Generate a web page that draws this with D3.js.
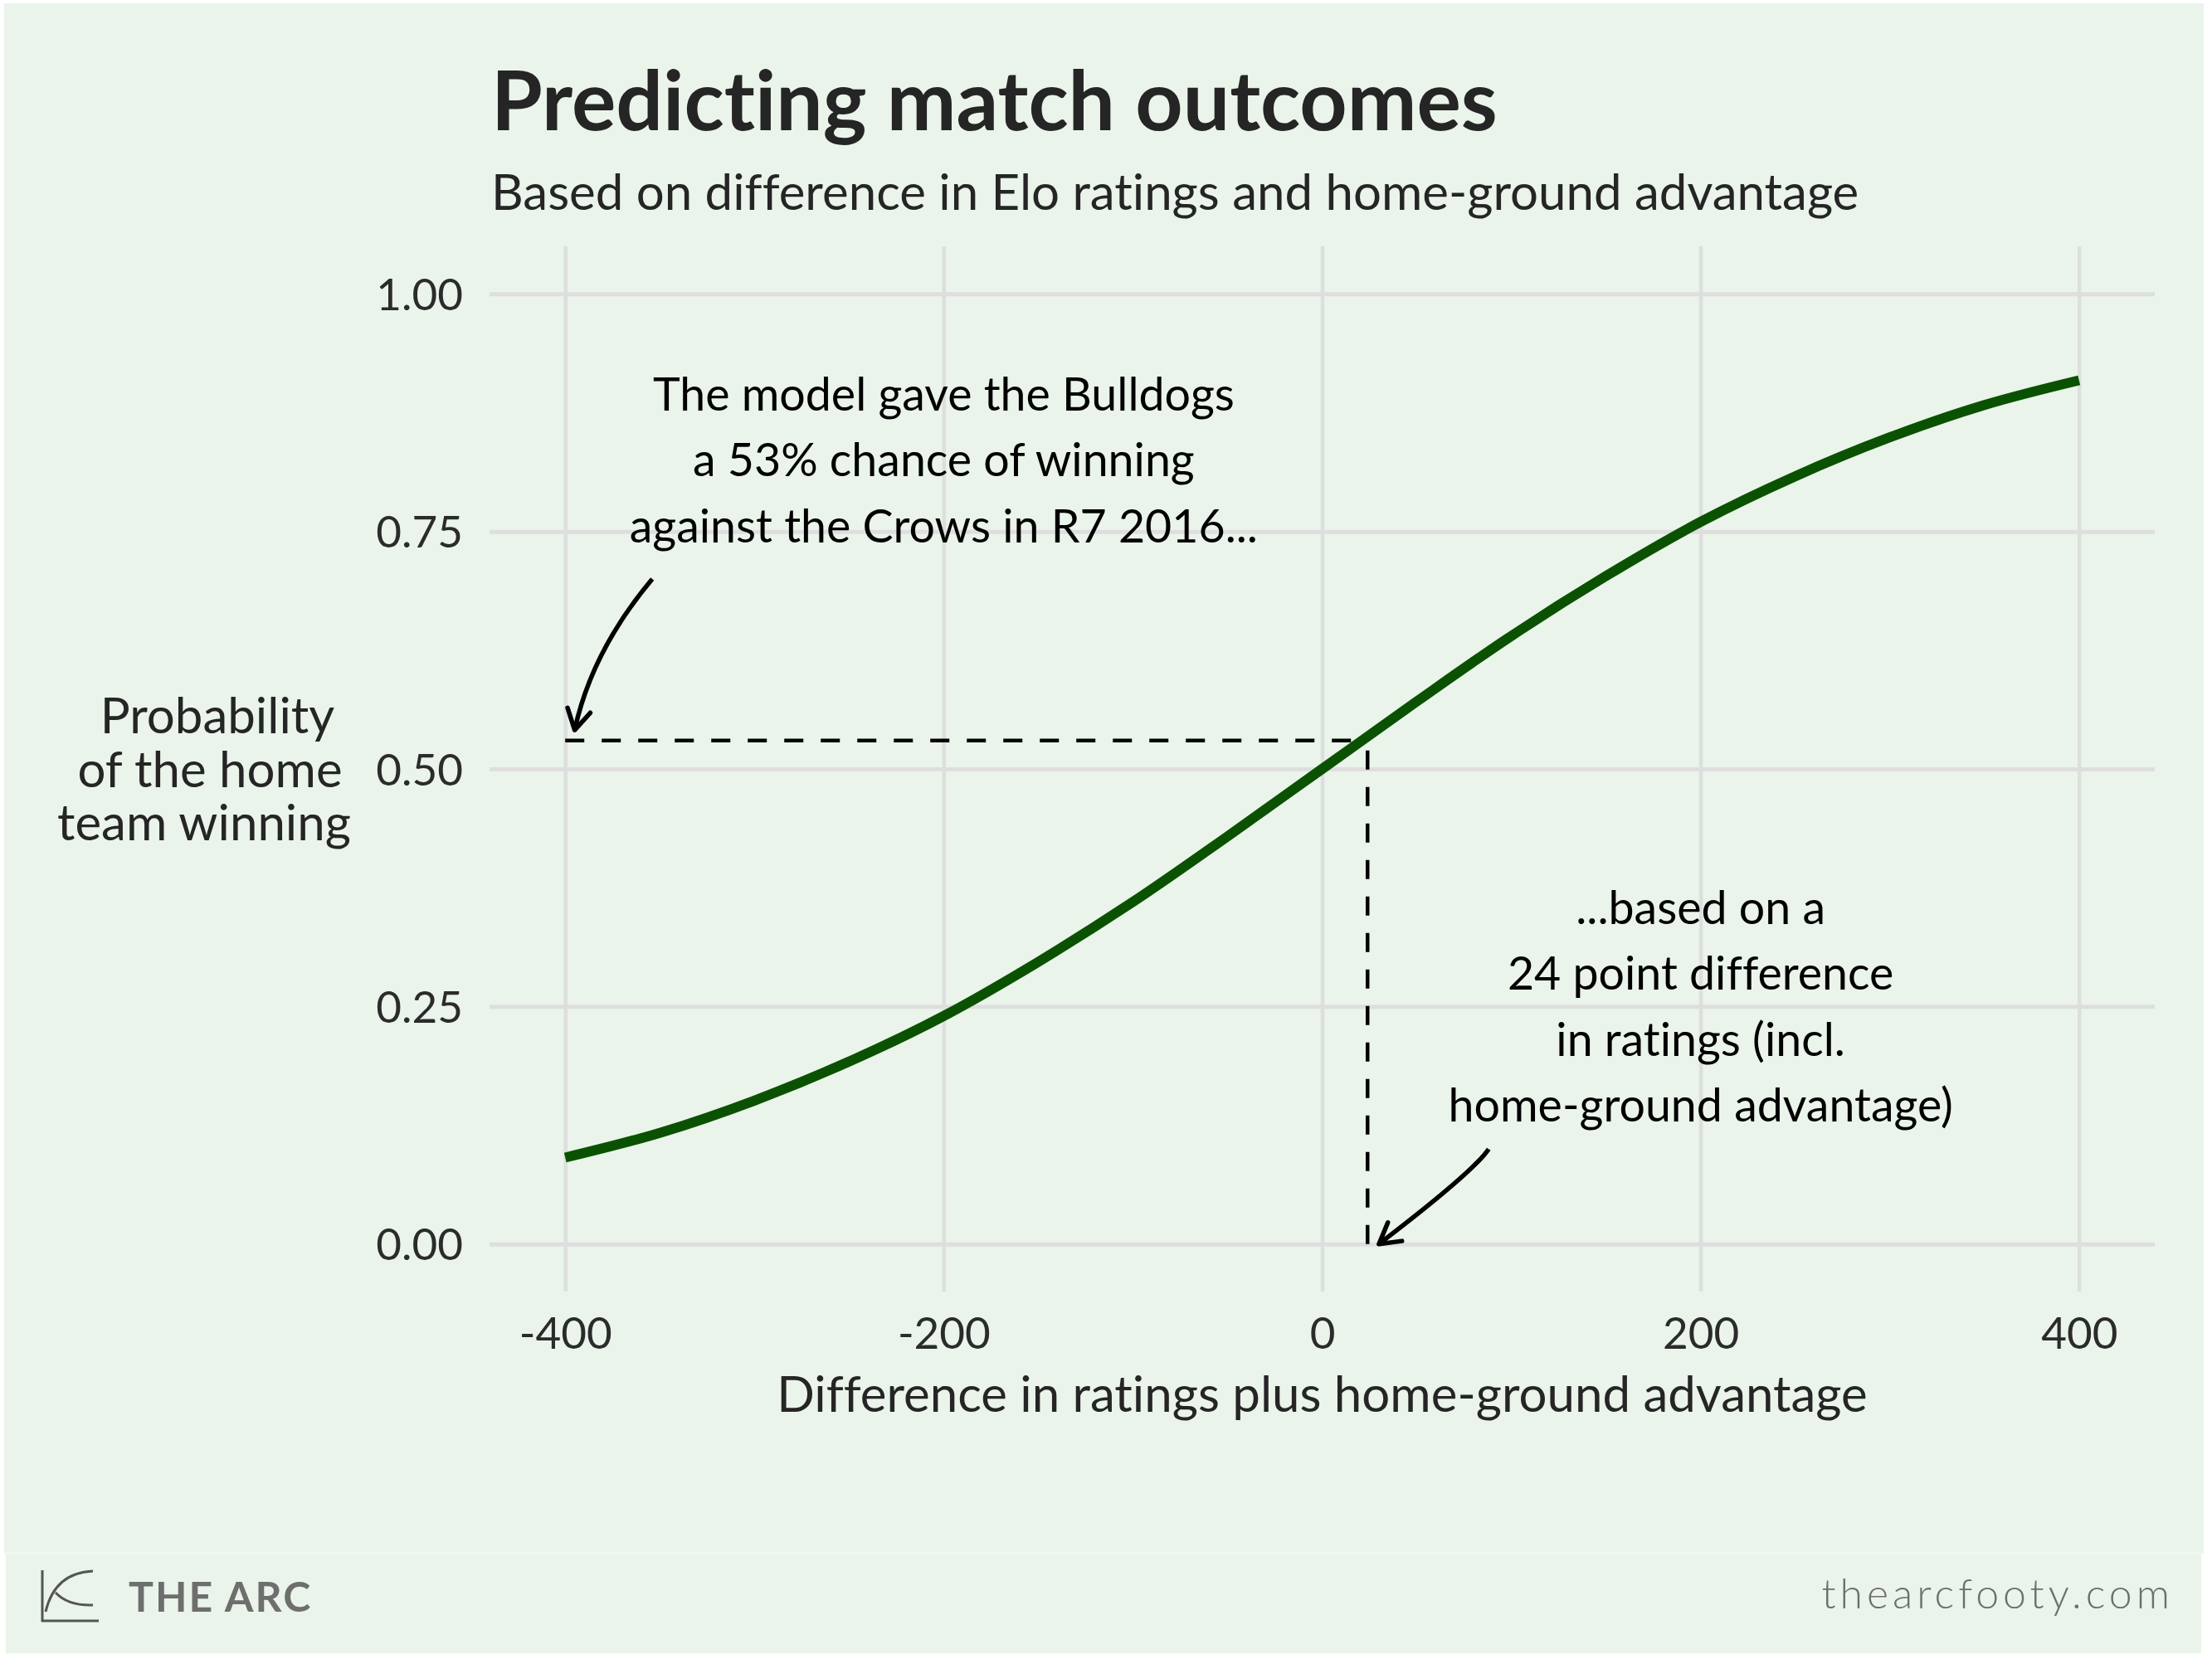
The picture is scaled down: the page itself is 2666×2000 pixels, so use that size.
<!DOCTYPE html>
<html>
<head>
<meta charset="utf-8">
<script src="https://cdn.jsdelivr.net/npm/d3@7"></script>
<style>
  html, body { margin: 0; padding: 0; background: #ffffff; }
  svg { display: block; font-family: Lato, "Open Sans", sans-serif; font-variant-ligatures: none; }
</style>
</head>
<body>
<svg id="chart" width="2666" height="2000"></svg>
<script>
// ratings difference (x) and win probability (y)
const diffs = [-400, -350, -300, -250, -200, -150, -100, -50, 0, 50, 100, 150, 200, 250, 300, 350, 400]
const probs = [0.091, 0.117, 0.151, 0.192, 0.240, 0.297, 0.360, 0.429, 0.500, 0.571, 0.640, 0.703, 0.760, 0.808, 0.849, 0.883, 0.909]

const xTicks = [-400, -200, 0, 200, 400]
const yTicks = [0, 0.25, 0.5, 0.75, 1]

// the highlighted game
const gameDiff = 24
const gameProb = 0.53

const noteTop = ["The model gave the Bulldogs", "a 53% chance of winning", "against the Crows in R7 2016..."]
const noteBottom = ["...based on a", "24 point difference", "in ratings (incl.", "home-ground advantage)"]

// arrows: [x, y, ctrlX, ctrlY, xend, yend] in data units
const arrows = [
  [-354, 0.70, -386, 0.624, -395, 0.541],
  [88, 0.10, 80, 0.076, 30, 0.0]
]

const svg = d3.select("#chart")

// background
svg.append("rect").attr("x", 5).attr("y", 4).attr("width", 2651).attr("height", 1869).attr("fill", "#eaf4ea")
svg.append("rect").attr("x", 7).attr("y", 1873).attr("width", 2646).attr("height", 120).attr("fill", "#eaf4ea")
svg.append("line").attr("x1", 5).attr("x2", 2656).attr("y1", 1872.5).attr("y2", 1872.5)
  .attr("stroke", "#f3f9f2").attr("stroke-width", 1.5)

const x = d3.scaleLinear().domain([-440, 440]).range([590, 2597])
const y = d3.scaleLinear().domain([-0.05, 1.05]).range([1557, 297])

const gridCol = "#dedede"

// y axis + horizontal grid
const yAxis = svg.append("g")
  .attr("transform", `translate(${x.range()[0]},0)`)
  .call(d3.axisLeft(y).tickValues(yTicks).tickFormat(d3.format(".2f"))
    .tickSize(-(x.range()[1] - x.range()[0])).tickPadding(32))
yAxis.select(".domain").remove()
yAxis.selectAll("line").attr("stroke", gridCol).attr("stroke-width", 5)
yAxis.selectAll("text").attr("fill", "#2b2b2b").style("font-size", "53px")
  .attr("dy", "0.36em").attr("font-family", "Lato")

// x axis + vertical grid
const xAxis = svg.append("g")
  .attr("transform", `translate(0,${y.range()[0]})`)
  .call(d3.axisBottom(x).tickValues(xTicks).tickFormat(d => String(d))
    .tickSize(-(y.range()[0] - y.range()[1])))
xAxis.select(".domain").remove()
xAxis.selectAll("line").attr("stroke", gridCol).attr("stroke-width", 4.5)
xAxis.selectAll("text").attr("fill", "#2b2b2b").style("font-size", "53px")
  .attr("dy", null).attr("y", 69).attr("font-family", "Lato")

// dashed guide lines
const dash = { stroke: "#000", w: 4.5, arr: "23,21" }
svg.append("line")
  .attr("x1", x(-400)).attr("x2", x(gameDiff)).attr("y1", y(gameProb)).attr("y2", y(gameProb))
  .attr("stroke", dash.stroke).attr("stroke-width", dash.w).attr("stroke-dasharray", dash.arr)
svg.append("line")
  .attr("x1", x(gameDiff)).attr("x2", x(gameDiff)).attr("y1", y(0)).attr("y2", y(gameProb))
  .attr("stroke", dash.stroke).attr("stroke-width", dash.w).attr("stroke-dasharray", dash.arr)

// probability curve
const line = d3.line().x((d, i) => x(d)).y((d, i) => y(probs[i])).curve(d3.curveMonotoneX)
svg.append("path")
  .attr("d", line(diffs))
  .attr("fill", "none")
  .attr("stroke", "#0a5202")
  .attr("stroke-width", 12)

// annotations
const noteText = (lines, cx, cy) => {
  const gap = 79.5
  const t = svg.append("text")
    .attr("text-anchor", "middle")
    .attr("fill", "#000")
    .style("font-size", "55.5px")
  lines.forEach((l, i) => {
    t.append("tspan")
      .attr("x", x(cx))
      .attr("y", y(cy) + (i - (lines.length - 1) / 2) * gap + 19.5)
      .text(l)
  })
}
noteText(noteTop, -200, 0.825)
noteText(noteBottom, 200, 0.25)

// curved arrows with open heads
arrows.forEach(a => {
  const p0 = [x(a[0]), y(a[1])], c = [x(a[2]), y(a[3])], p1 = [x(a[4]), y(a[5])]
  const path = d3.path()
  path.moveTo(p0[0], p0[1])
  path.quadraticCurveTo(c[0], c[1], p1[0], p1[1])
  svg.append("path").attr("d", path.toString())
    .attr("fill", "none").attr("stroke", "#000").attr("stroke-width", 5.5)
  // arrow head
  const ang = Math.atan2(c[1] - p1[1], c[0] - p1[0])
  const len = 28, spread = Math.PI / 6
  const l1 = [p1[0] + len * Math.cos(ang - spread), p1[1] + len * Math.sin(ang - spread)]
  const l2 = [p1[0] + len * Math.cos(ang + spread), p1[1] + len * Math.sin(ang + spread)]
  svg.append("path").attr("d", `M${l1}L${p1}L${l2}`)
    .attr("fill", "none").attr("stroke", "#000").attr("stroke-width", 5.5)
    .attr("stroke-linecap", "round").attr("stroke-linejoin", "round")
})

// titles
svg.append("text").attr("x", 592).attr("y", 157)
  .attr("fill", "#252525").style("font-size", "100px").style("font-weight", 700)
  .text("Predicting match outcomes")
svg.append("text").attr("x", 592).attr("y", 253)
  .attr("fill", "#252525").style("font-size", "60px")
  .text("Based on difference in Elo ratings and home-ground advantage")

// axis titles
svg.append("text").attr("x", (x.range()[0] + x.range()[1]) / 2).attr("y", 1702)
  .attr("text-anchor", "middle").attr("fill", "#252525").style("font-size", "60px")
  .text("Difference in ratings plus home-ground advantage")

const yTitle = ["Probability", "of the home", "team winning"]
const yTitleX = [262, 253, 246]
const yt = svg.append("text").attr("text-anchor", "middle").attr("fill", "#252525").style("font-size", "60px")
yTitle.forEach((l, i) => {
  yt.append("tspan").attr("x", yTitleX[i]).attr("y", 884 + i * 64.5).text(l)
})

// footer
const logo = svg.append("g").attr("fill", "none").attr("stroke", "#555").attr("stroke-width", 3)
logo.append("path").attr("d", "M51,1893L51,1955M50,1954L119,1954")
logo.append("path").attr("d", "M55,1943Q66,1896 112,1894")
logo.append("path").attr("d", "M67,1920Q82,1936 112,1935")

svg.append("text").attr("x", 155).attr("y", 1943)
  .attr("fill", "#6e6e6e").style("font-size", "50px").style("font-weight", 700)
  .style("letter-spacing", "2px")
  .text("THE ARC")

svg.append("text").attr("x", 2620).attr("y", 1939).attr("text-anchor", "end")
  .attr("fill", "#6e6e6e").style("font-size", "50px").style("font-weight", 300)
  .style("letter-spacing", "5px")
  .text("thearcfooty.com")
</script>
</body>
</html>
